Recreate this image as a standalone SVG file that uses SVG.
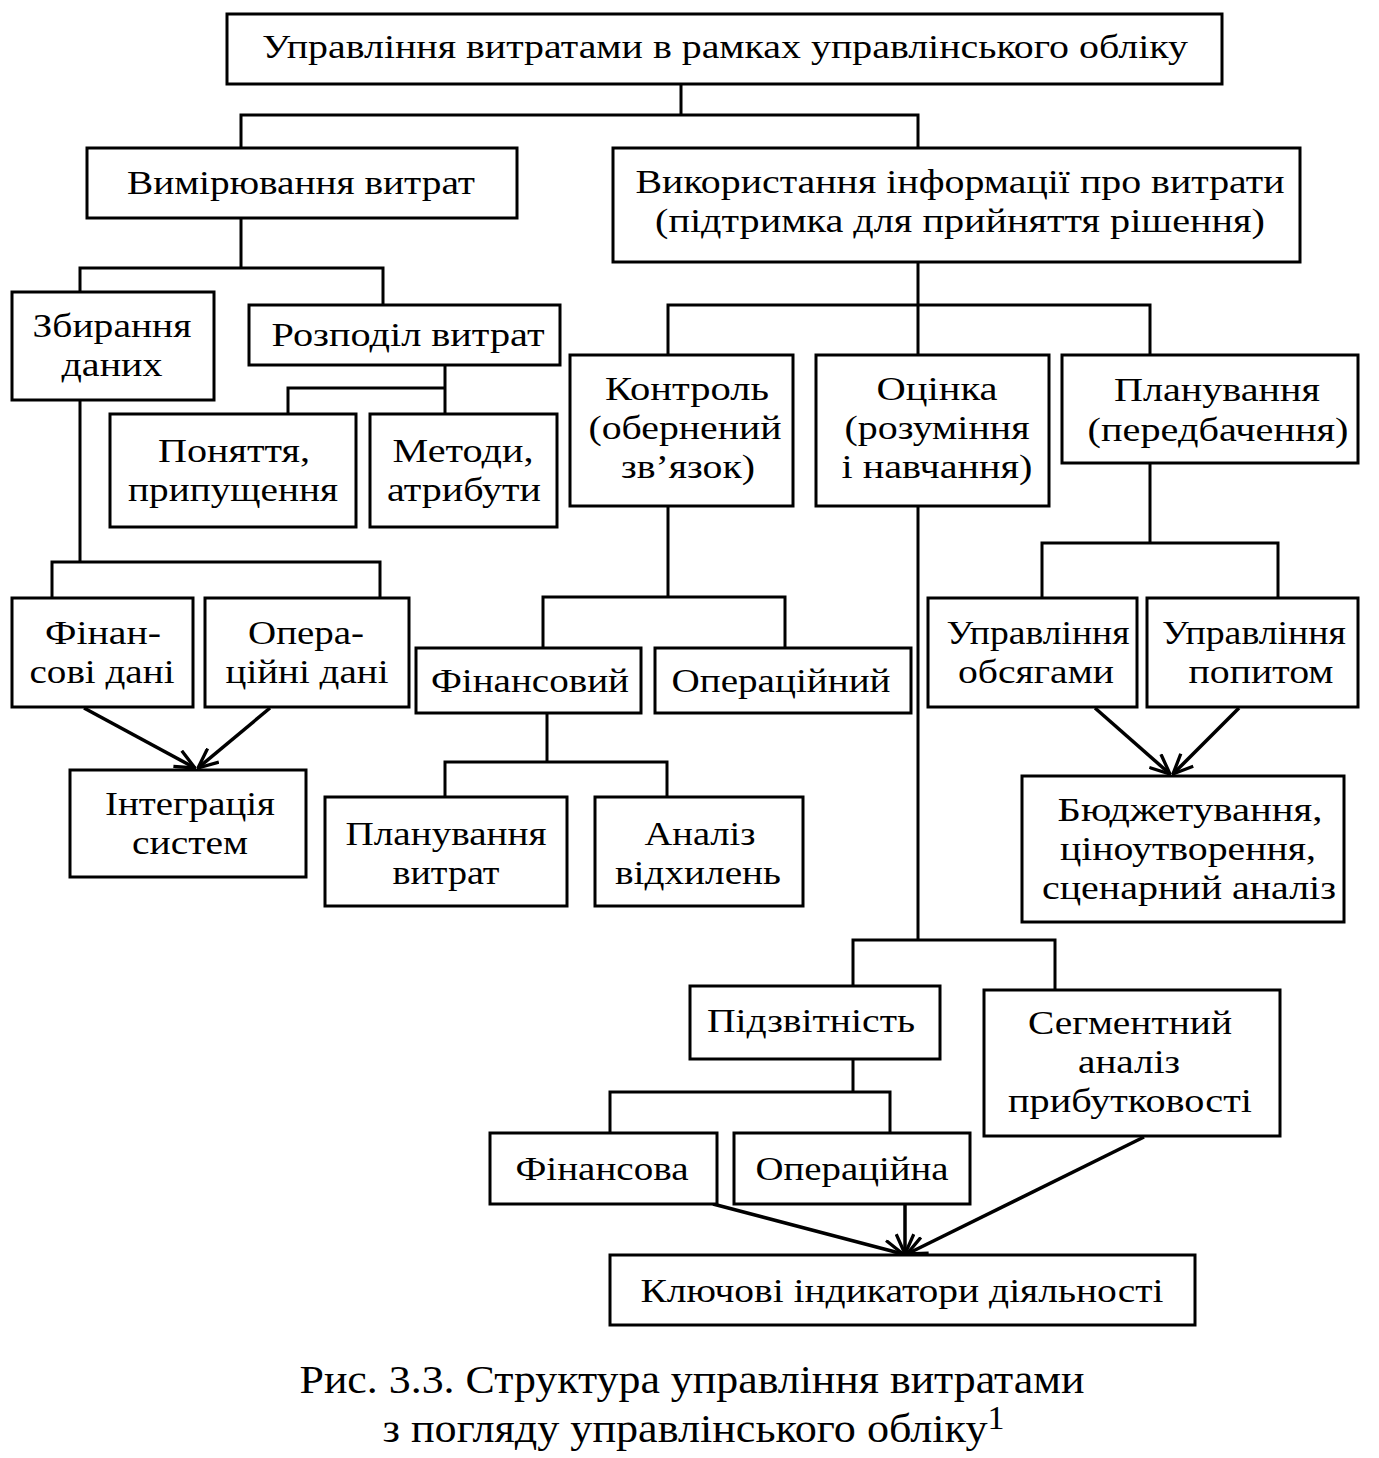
<svg xmlns="http://www.w3.org/2000/svg" width="1379" height="1458" viewBox="0 0 1379 1458">
<style>
.box{fill:#fff;stroke:#000;stroke-width:3}
.ln{fill:none;stroke:#000;stroke-width:3}
.ar{fill:none;stroke:#000;stroke-width:3.5}
text{font-family:"Liberation Serif","Times New Roman",serif;font-size:34px;fill:#000;text-anchor:middle}
.cap{font-size:40px}
</style>
<defs>
<marker id="v" viewBox="0 0 20 18" refX="19" refY="9" markerWidth="22" markerHeight="20" markerUnits="userSpaceOnUse" orient="auto">
<path d="M1,1 L19,9 L1,17" fill="none" stroke="#000" stroke-width="3"/>
</marker>
</defs>
<rect width="1379" height="1458" fill="#fff"/>
<g id="connectors">
<path class="ln" d="M681,84 V115 M241,148 V115 H918 V148"/>
<path class="ln" d="M241,218 V268 M80,292 V268 H383 V305"/>
<path class="ln" d="M445,365 V388 M288,414 V388 H445 V414"/>
<path class="ln" d="M80,400 V562 M52,598 V562 H380 V598"/>
<path class="ln" d="M918,262 V305 M668,355 V305 H1150 V355 M918,305 V355"/>
<path class="ln" d="M668,506 V597 M543,648 V597 H785 V648"/>
<path class="ln" d="M547,713 V762 M445,797 V762 H667 V797"/>
<path class="ln" d="M1150,463 V543 M1042,598 V543 H1278 V598"/>
<path class="ln" d="M918,506 V940 M853,986 V940 H1055 V990"/>
<path class="ln" d="M853,1059 V1092 M610,1133 V1092 H890 V1133"/>
<line class="ar" x1="84" y1="708" x2="195" y2="768" marker-end="url(#v)"/>
<line class="ar" x1="270" y1="708" x2="198" y2="768" marker-end="url(#v)"/>
<line class="ar" x1="1095" y1="708" x2="1170" y2="774" marker-end="url(#v)"/>
<line class="ar" x1="1239" y1="708" x2="1173" y2="774" marker-end="url(#v)"/>
<line class="ar" x1="713" y1="1204" x2="903" y2="1254" marker-end="url(#v)"/>
<line class="ar" x1="905" y1="1204" x2="905" y2="1254" marker-end="url(#v)"/>
<line class="ar" x1="1144" y1="1137" x2="907" y2="1254" marker-end="url(#v)"/>
</g>
<g id="n-top"><rect class="box" x="227" y="14" width="995" height="70"/><text x="725" y="58" textLength="926" lengthAdjust="spacingAndGlyphs">Управління витратами в рамках управлінського обліку</text></g>
<g id="n-vymir"><rect class="box" x="87" y="148" width="430" height="70"/><text x="301" y="194" textLength="348" lengthAdjust="spacingAndGlyphs">Вимірювання витрат</text></g>
<g id="n-vykor"><rect class="box" x="613" y="148" width="687" height="114"/><text x="960" y="193" textLength="649" lengthAdjust="spacingAndGlyphs">Використання інформації про витрати</text><text x="960" y="232" textLength="610" lengthAdjust="spacingAndGlyphs">(підтримка для прийняття рішення)</text></g>
<g id="n-zbyr"><rect class="box" x="12" y="292" width="202" height="108"/><text x="112" y="337" textLength="159" lengthAdjust="spacingAndGlyphs">Збирання</text><text x="112" y="376" textLength="101" lengthAdjust="spacingAndGlyphs">даних</text></g>
<g id="n-rozp"><rect class="box" x="249" y="305" width="311" height="60"/><text x="408" y="346" textLength="273" lengthAdjust="spacingAndGlyphs">Розподіл витрат</text></g>
<g id="n-ponyat"><rect class="box" x="110" y="414" width="246" height="113"/><text x="234" y="462" textLength="152" lengthAdjust="spacingAndGlyphs">Поняття,</text><text x="233" y="501" textLength="210" lengthAdjust="spacingAndGlyphs">припущення</text></g>
<g id="n-metody"><rect class="box" x="370" y="414" width="187" height="113"/><text x="463" y="462" textLength="141" lengthAdjust="spacingAndGlyphs">Методи,</text><text x="464" y="501" textLength="154" lengthAdjust="spacingAndGlyphs">атрибути</text></g>
<g id="n-kontrol"><rect class="box" x="570" y="355" width="223" height="151"/><text x="687" y="400" textLength="164" lengthAdjust="spacingAndGlyphs">Контроль</text><text x="685" y="439" textLength="193" lengthAdjust="spacingAndGlyphs">(обернений</text><text x="688" y="478" textLength="134" lengthAdjust="spacingAndGlyphs">зв’язок)</text></g>
<g id="n-otsinka"><rect class="box" x="816" y="355" width="233" height="151"/><text x="937" y="400" textLength="121" lengthAdjust="spacingAndGlyphs">Оцінка</text><text x="937" y="439" textLength="185" lengthAdjust="spacingAndGlyphs">(розуміння</text><text x="937" y="478" textLength="191" lengthAdjust="spacingAndGlyphs">і навчання)</text></g>
<g id="n-planuv"><rect class="box" x="1062" y="355" width="296" height="108"/><text x="1217" y="401" textLength="206" lengthAdjust="spacingAndGlyphs">Планування</text><text x="1218" y="441" textLength="261" lengthAdjust="spacingAndGlyphs">(передбачення)</text></g>
<g id="n-findani"><rect class="box" x="12" y="598" width="181" height="109"/><text x="103" y="644" textLength="116" lengthAdjust="spacingAndGlyphs">Фінан-</text><text x="102" y="683" textLength="145" lengthAdjust="spacingAndGlyphs">сові дані</text></g>
<g id="n-operdani"><rect class="box" x="205" y="598" width="204" height="109"/><text x="306" y="644" textLength="116" lengthAdjust="spacingAndGlyphs">Опера-</text><text x="307" y="683" textLength="163" lengthAdjust="spacingAndGlyphs">ційні дані</text></g>
<g id="n-integr"><rect class="box" x="70" y="770" width="236" height="107"/><text x="190" y="815" textLength="170" lengthAdjust="spacingAndGlyphs">Інтеграція</text><text x="190" y="854" textLength="116" lengthAdjust="spacingAndGlyphs">систем</text></g>
<g id="n-finansovyi"><rect class="box" x="416" y="648" width="225" height="65"/><text x="530" y="692" textLength="198" lengthAdjust="spacingAndGlyphs">Фінансовий</text></g>
<g id="n-operatsiinyi"><rect class="box" x="655" y="648" width="256" height="65"/><text x="781" y="692" textLength="219" lengthAdjust="spacingAndGlyphs">Операційний</text></g>
<g id="n-planvytrat"><rect class="box" x="325" y="797" width="242" height="109"/><text x="446" y="845" textLength="201" lengthAdjust="spacingAndGlyphs">Планування</text><text x="446" y="884" textLength="107" lengthAdjust="spacingAndGlyphs">витрат</text></g>
<g id="n-analiz"><rect class="box" x="595" y="797" width="208" height="109"/><text x="700" y="845" textLength="111" lengthAdjust="spacingAndGlyphs">Аналіз</text><text x="698" y="884" textLength="166" lengthAdjust="spacingAndGlyphs">відхилень</text></g>
<g id="n-obsyag"><rect class="box" x="928" y="598" width="209" height="109"/><text x="1038" y="644" textLength="183" lengthAdjust="spacingAndGlyphs">Управління</text><text x="1036" y="683" textLength="156" lengthAdjust="spacingAndGlyphs">обсягами</text></g>
<g id="n-popyt"><rect class="box" x="1147" y="598" width="211" height="109"/><text x="1254" y="644" textLength="184" lengthAdjust="spacingAndGlyphs">Управління</text><text x="1261" y="683" textLength="145" lengthAdjust="spacingAndGlyphs">попитом</text></g>
<g id="n-budzhet"><rect class="box" x="1022" y="776" width="322" height="146"/><text x="1190" y="821" textLength="265" lengthAdjust="spacingAndGlyphs">Бюджетування,</text><text x="1188" y="860" textLength="256" lengthAdjust="spacingAndGlyphs">ціноутворення,</text><text x="1189" y="899" textLength="294" lengthAdjust="spacingAndGlyphs">сценарний аналіз</text></g>
<g id="n-pidzvit"><rect class="box" x="690" y="986" width="250" height="73"/><text x="811" y="1032" textLength="208" lengthAdjust="spacingAndGlyphs">Підзвітність</text></g>
<g id="n-segment"><rect class="box" x="984" y="990" width="296" height="146"/><text x="1130" y="1034" textLength="204" lengthAdjust="spacingAndGlyphs">Сегментний</text><text x="1129" y="1073" textLength="102" lengthAdjust="spacingAndGlyphs">аналіз</text><text x="1130" y="1112" textLength="244" lengthAdjust="spacingAndGlyphs">прибутковості</text></g>
<g id="n-finansova"><rect class="box" x="490" y="1133" width="227" height="71"/><text x="602" y="1180" textLength="173" lengthAdjust="spacingAndGlyphs">Фінансова</text></g>
<g id="n-operatsiina"><rect class="box" x="734" y="1133" width="236" height="71"/><text x="852" y="1180" textLength="193" lengthAdjust="spacingAndGlyphs">Операційна</text></g>
<g id="n-kpi"><rect class="box" x="610" y="1255" width="585" height="70"/><text x="902" y="1302" textLength="523" lengthAdjust="spacingAndGlyphs">Ключові індикатори діяльності</text></g>
<g id="caption"><text class="cap" x="692" y="1393" textLength="785" lengthAdjust="spacingAndGlyphs">Рис. 3.3. Структура управління витратами</text><text class="cap" x="685" y="1442" textLength="605" lengthAdjust="spacingAndGlyphs">з погляду управлінського обліку</text><text x="996" y="1429" font-size="17">1</text></g>
</svg>
